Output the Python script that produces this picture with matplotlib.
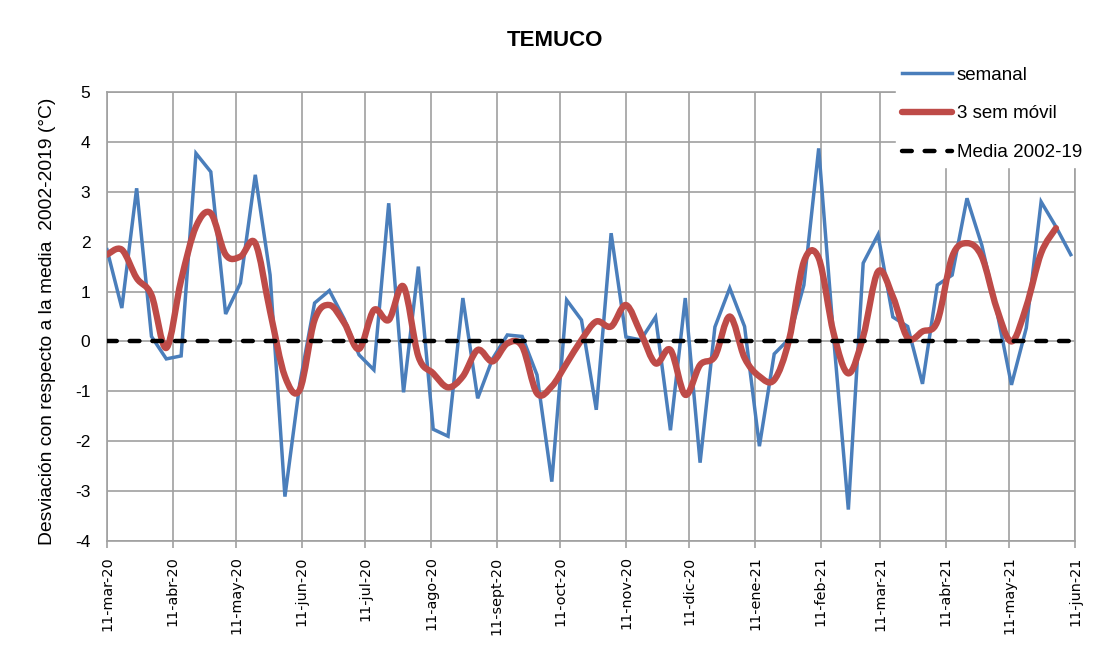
import numpy as np
import matplotlib
matplotlib.use("Agg")
import matplotlib.pyplot as plt
import matplotlib.dates as mdates
from matplotlib.path import Path
from matplotlib.patches import PathPatch
from matplotlib.lines import Line2D
from datetime import date, timedelta

plt.rcParams["axes.unicode_minus"] = False

# datos semanales desde el 11-mar-20
inicio = date(2020, 3, 11)
semanal = [1.84, 0.67, 3.07, 0.1, -0.35, -0.29, 3.77, 3.4, 0.55, 1.17,
           3.34, 1.33, -3.11, -0.85, 0.77, 1.02, 0.45, -0.27, -0.57, 2.77,
           -1.02, 1.5, -1.76, -1.9, 0.87, -1.14, -0.35, 0.13, 0.1, -0.67,
           -2.81, 0.83, 0.43, -1.37, 2.17, 0.09, 0.03, 0.49, -1.78, 0.87,
           -2.43, 0.29, 1.07, 0.3, -2.1, -0.25, 0.05, 1.13, 3.87, 0.1,
           -3.37, 1.57, 2.14, 0.49, 0.3, -0.85, 1.13, 1.33, 2.87, 1.93,
           0.63, -0.87, 0.27, 2.8, 2.3, 1.74]
movil = [1.74, 1.84, 1.27, 0.93, -0.13, 1.23, 2.3, 2.57, 1.74, 1.7,
         1.97, 0.6, -0.7, -0.97, 0.43, 0.73, 0.37, -0.15, 0.63, 0.43,
         1.1, -0.3, -0.64, -0.92, -0.7, -0.17, -0.4, -0.04, -0.1, -1.04,
         -0.9, -0.44, 0.03, 0.4, 0.3, 0.73, 0.17, -0.44, -0.17, -1.07,
         -0.47, -0.3, 0.5, -0.33, -0.7, -0.77, 0.03, 1.6, 1.67, 0.17,
         -0.64, 0.1, 1.4, 0.9, 0.07, 0.2, 0.4, 1.7, 1.97, 1.7,
         0.67, 0.0, 0.7, 1.77, 2.27]
media = 0.0

tick_fechas = [date(2020, m, 11) for m in range(3, 13)] + [date(2021, m, 11) for m in range(1, 7)]
tick_labels = ["11-mar-20", "11-abr-20", "11-may-20", "11-jun-20", "11-jul-20",
               "11-ago-20", "11-sept-20", "11-oct-20", "11-nov-20", "11-dic-20",
               "11-ene-21", "11-feb-21", "11-mar-21", "11-abr-21", "11-may-21",
               "11-jun-21"]

AZUL = "#4A7EBB"
ROJO = "#BE4B48"
GRIS = "#A0A0A0"

fechas = [inicio + timedelta(weeks=i) for i in range(len(semanal))]
x = mdates.date2num(fechas)

fig = plt.figure(figsize=(10.94, 6.64), dpi=100)
ax = fig.add_axes([107/1094, 1-541/664, (1075-107)/1094, (541-92)/664])

ax.plot(x, semanal, color=AZUL, lw=2.5, zorder=3, solid_joinstyle="miter")


# linea suavizada (bezier tipo excel) para la media movil
def curva_suave(xs, ys):
    p = np.column_stack([xs, ys])
    n = len(p)
    verts = [p[0]]
    codes = [Path.MOVETO]
    for i in range(n - 1):
        p0 = p[i - 1] if i > 0 else p[i]
        p3 = p[i + 2] if i + 2 < n else p[i + 1]
        c1 = p[i] + (p[i + 1] - p0) / 6.0
        c2 = p[i + 1] - (p3 - p[i]) / 6.0
        verts += [c1, c2, p[i + 1]]
        codes += [Path.CURVE4] * 3
    return Path(verts, codes)


xr = x[:len(movil)]
ax.add_patch(PathPatch(curva_suave(xr, movil), fill=False, edgecolor=ROJO,
                       lw=4.6, capstyle="round", joinstyle="round", zorder=4))

ax.plot(x, [media] * len(x), color="black", lw=3.2, dashes=(2.2, 2.9),
        dash_capstyle="round", zorder=5)

ax.set_xlim(mdates.date2num(date(2020, 3, 11)), mdates.date2num(date(2021, 6, 11)))
ax.set_ylim(-4, 5)
ax.set_yticks(range(-4, 6))
ax.set_xticks(mdates.date2num(tick_fechas))
ax.set_xticklabels(tick_labels, rotation=90, fontsize=10.4, family="DejaVu Sans")
for lab in ax.get_yticklabels():
    lab.set_family("Liberation Sans")
    lab.set_fontsize(12.5)
ax.grid(True, color=GRIS, lw=1.2)
ax.set_axisbelow(True)
for s in ax.spines.values():
    s.set_color(GRIS)
    s.set_linewidth(1.2)
ax.tick_params(axis="x", color=GRIS, length=5, width=1.2, pad=6)
ax.tick_params(axis="y", length=0, pad=12)

fig.text(555/1094, 1-40/664, "TEMUCO", ha="center", va="center",
         fontsize=16, fontweight="bold", family="Liberation Sans")
fig.text(48/1094, 1-321/664, "Desviación con respecto a la media  2002-2019 (°C)",
         rotation=90, ha="center", va="center", fontsize=13.9, family="Liberation Sans")

handles = [Line2D([], [], color=AZUL, lw=2.5),
           Line2D([], [], color=ROJO, lw=4.6, solid_capstyle="round"),
           Line2D([], [], color="black", lw=3.2, dashes=(2.2, 2.9), dash_capstyle="round")]
leg = fig.legend(handles, ["semanal", "3 sem móvil", "Media 2002-19"],
                 loc="upper left", bbox_to_anchor=(896/1094, 1-61/664),
                 frameon=True, fancybox=False, framealpha=1, edgecolor="white",
                 facecolor="white", handlelength=2.7, handletextpad=0.25,
                 labelspacing=1.15, borderpad=0.3, borderaxespad=0,
                 prop={"family": "Liberation Sans", "size": 13.5})

fig.savefig("out.png", dpi=100)
